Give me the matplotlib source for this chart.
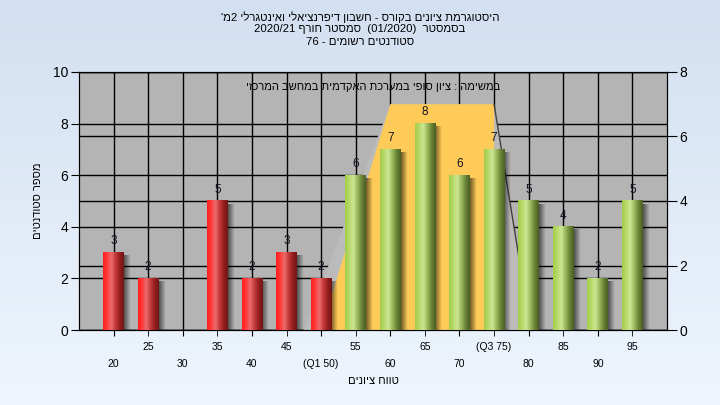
import re
import numpy as np
import matplotlib
matplotlib.use('Agg')
import matplotlib.pyplot as plt
from matplotlib.patches import Polygon
from matplotlib.colors import LinearSegmentedColormap

plt.rcParams['font.family'] = ['Liberation Sans', 'DejaVu Sans']

# data
grades = [20, 25, 30, 35, 40, 45, 50, 55, 60, 65, 70, 75, 80, 85, 90, 95]
counts = [3, 2, 0, 5, 2, 3, 2, 6, 7, 8, 6, 7, 5, 4, 2, 5]
tick_labels = ['20', '25', '30', '35', '40', '45', '(Q1 50)', '55',
               '60', '65', '70', '(Q3 75)', '80', '85', '90', '95']
fail_limit = 50  # red up to here, green above

# box shape drawn against the right axis (0-8)
box_x = [50, 60, 75, 75]
box_y = [0, 7, 7, 0]
shade_x = [47.5, 60, 75, 80.3]
shade_y = [0, 7, 7, 0]

title_lines = ["היסטוגרמת ציונים בקורס - חשבון דיפרנציאלי ואינטגרלי 2מ'",
               "בסמסטר  (01/2020)  סמסטר חורף 2020/21",
               "סטודנטים רשומים - 76"]
note = "במשימה : ציון סופי במערכת האקדמית במחשב המרכזי"
xlabel = "טווח ציונים"
ylabel = "מספר סטודנטים"


def rtl(s):
    # matplotlib draws left to right, so flip hebrew into visual order
    parts = re.findall(r"[0-9A-Za-z/]+|.", s)
    flip = {'(': ')', ')': '('}
    return ''.join(flip.get(p, p) for p in reversed(parts))


fig = plt.figure(figsize=(7.2, 4.05), dpi=100)

# page background gradient
bg = fig.add_axes([0, 0, 1, 1], zorder=-10)
bg.imshow(np.linspace(0, 1, 100).reshape(-1, 1), aspect='auto',
          cmap=LinearSegmentedColormap.from_list('bg', ['#d3e0f1', '#eef5fd']),
          extent=(0, 1, 0, 1))
bg.axis('off')

rect = [79 / 720, 1 - 330 / 405, 588 / 720, 258 / 405]
ax2 = fig.add_axes(rect, zorder=0)
ax = fig.add_axes(rect, zorder=1, sharex=ax2)
ax.patch.set_visible(False)
ax2.set_facecolor('#b4b4b4')
ax2.yaxis.tick_right()

ax.set_xlim(15, 100)
ax.set_ylim(0, 10)
ax2.set_ylim(0, 8)

# grid
ax.set_yticks(range(0, 11, 2))
ax2.set_yticks(range(0, 9, 2))
ax.set_xticks(grades[0::2])
ax.set_xticks(grades[1::2], minor=True)
ax.set_xticklabels(tick_labels[0::2])
ax.set_xticklabels(tick_labels[1::2], minor=True)
ax.set_axisbelow(True)
ax.grid(True, which='both', color='black', lw=1, zorder=0.5)
ax2.grid(True, axis='y', color='black', lw=1)
ax2.grid(False, axis='x', which='both')

ax.tick_params(axis='x', which='major', length=4, pad=17, labelsize=7.5)
ax.tick_params(axis='x', which='minor', length=4, pad=4.5, labelsize=7.5)
ax.tick_params(axis='y', length=6, pad=2, labelsize=10)
ax2.tick_params(axis='y', length=7, pad=2, labelsize=10)
ax2.tick_params(axis='x', which='both', labelbottom=False, length=0)
for a in (ax, ax2):
    for s in a.spines.values():
        s.set_color('black')

# box with its shade, against the right axis
ax.add_patch(Polygon(list(zip(shade_x, shade_y)), closed=True,
                     transform=ax2.transData, facecolor='#bbbbbb',
                     edgecolor='none', zorder=1))
ax.add_patch(Polygon(list(zip(box_x, box_y)), closed=True,
                     transform=ax2.transData, facecolor='#fecb58',
                     edgecolor='none', zorder=1.1))
ax.plot(shade_x[2:], shade_y[2:], color='#404040', lw=1,
        transform=ax2.transData, zorder=1.2)

# bars with cylinder shading and a soft shadow
red = LinearSegmentedColormap.from_list(
    'red', ['#ff1e1e', '#ff3a3a', '#ea6c6c', '#c43a3a', '#961f1f', '#741414'])
green = LinearSegmentedColormap.from_list(
    'green', ['#a2cc48', '#b8da6a', '#cce695', '#9ab85a', '#6a8436', '#4a5e24'])
grad = np.linspace(0, 1, 64).reshape(1, -1)
shadow = np.zeros((1, 16, 4))
shadow[0, :, 3] = np.linspace(0.55, 0.0, 16)

w = 3.0
for g, c in zip(grades, counts):
    if c == 0:
        continue
    ax.imshow(shadow, extent=(g + w / 2, g + w / 2 + 0.9, 0, c - 0.12),
              aspect='auto', interpolation='bilinear', zorder=2)
    ax.imshow(grad, cmap=red if g <= fail_limit else green,
              extent=(g - w / 2, g + w / 2, 0, c), aspect='auto',
              interpolation='bicubic', zorder=3)
    ax.text(g, c + 0.2, str(c), ha='center', va='bottom', fontsize=8.5,
            color='#111122', zorder=4)

ax.set_xlim(15, 100)
ax.set_ylim(0, 10)

ax.text(0.5, 0.942, rtl(note), transform=ax.transAxes, ha='center',
        va='center', fontsize=8, zorder=5)

ax.set_ylabel(rtl(ylabel), fontsize=8)
ax.yaxis.set_label_coords(-0.062, 0.5)
fig.text(373 / 720, 1 - 381 / 405, rtl(xlabel), ha='center', va='center',
         fontsize=8)

for i, line in enumerate(title_lines):
    fig.text(0.5, 1 - (17 + 12.5 * i) / 405, rtl(line), ha='center',
             va='center', fontsize=8.2)

fig.savefig('out.png', dpi=100)
